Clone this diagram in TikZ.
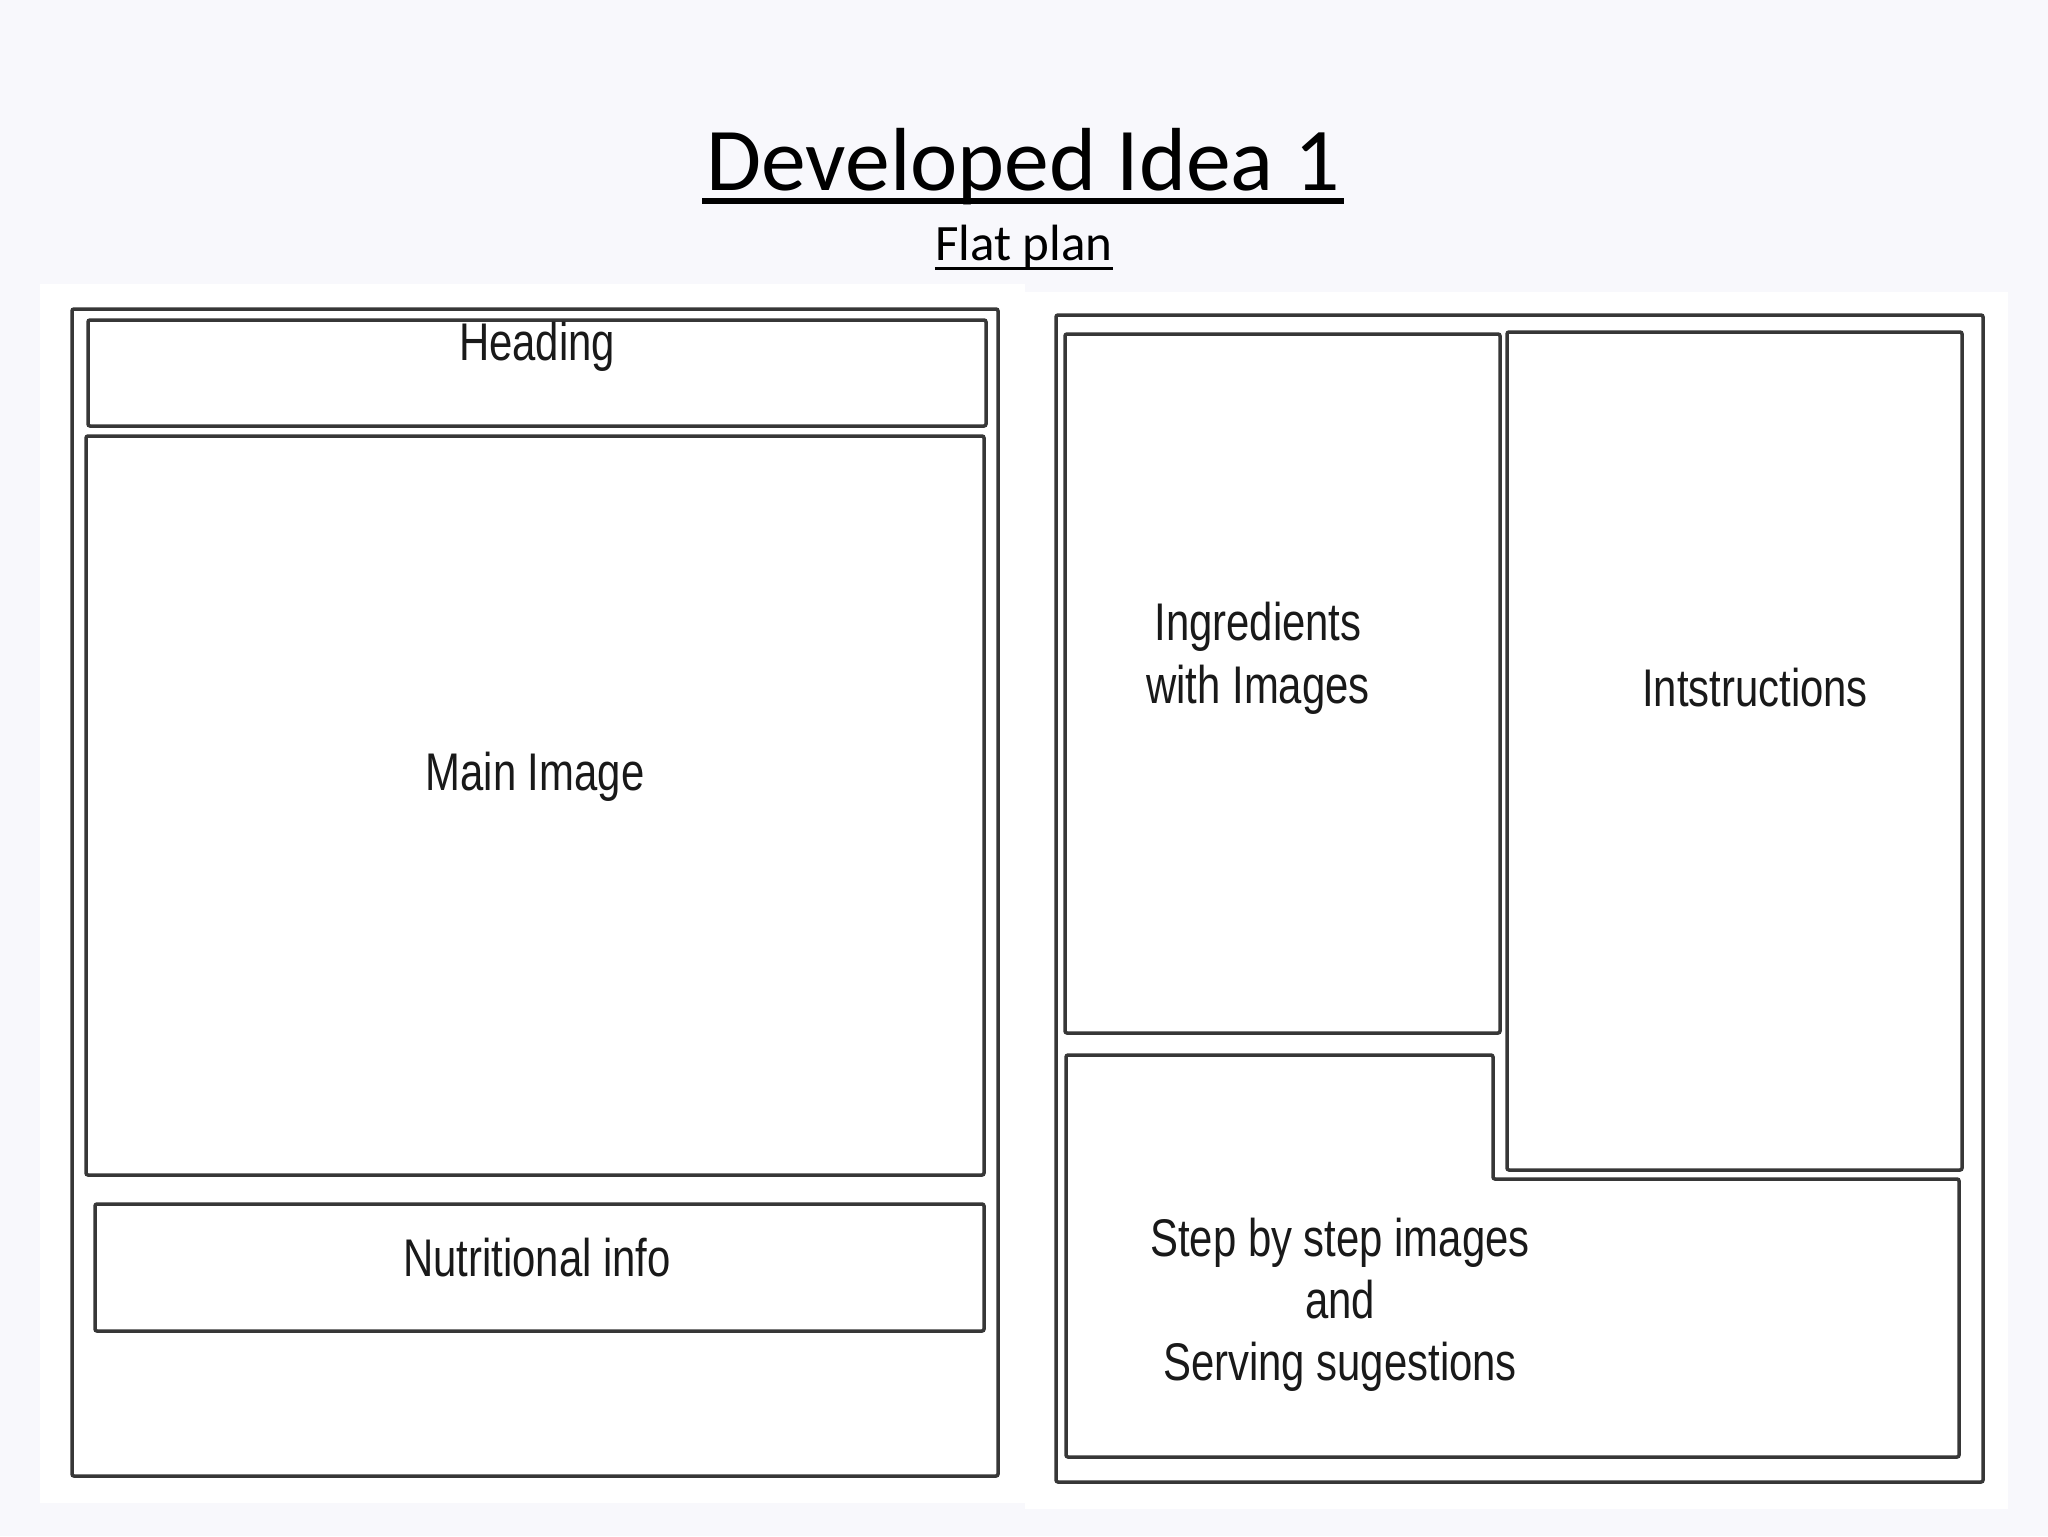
\documentclass[tikz,border=0pt]{standalone}
\usepackage{fontspec}
\setmainfont{Carlito}
\newfontfamily\labelfont[FakeStretch=0.79]{Liberation Sans}
\definecolor{pagebg}{RGB}{248,248,252}
\definecolor{boxline}{RGB}{55,55,55}
\begin{document}
\begin{tikzpicture}[x=0.5pt,y=-0.5pt,
  panel/.style={fill=white,draw=none},
  frame/.style={draw=boxline,line width=1.75pt,rounded corners=1pt},
  lbl/.style={font=\labelfont\fontsize{26.5}{30}\selectfont,text=black!90,anchor=base,inner sep=0pt},
  ttl/.style={anchor=base,inner sep=0pt,text=black}]
\useasboundingbox (0,0) rectangle (2048,1536);
\fill[pagebg] (0,0) rectangle (2048,1536);
% white panels
\fill[panel] (40,284) rectangle (1025,1503);
\fill[panel] (1025,292) rectangle (2008,1509);
% titles
\node[ttl,font=\fontsize{44.8}{54}\selectfont] (title) at (1023,190) {Developed Idea 1};
\draw[line width=3pt] ([xshift=-2pt,yshift=-5.5pt]title.base west) -- ([xshift=2pt,yshift=-5.5pt]title.base east);
\node[ttl,font=\fontsize{25.5}{30}\selectfont] (sub) at (1024,260) {Flat plan};
\draw[line width=1.5pt] ([yshift=-4pt]sub.base west) -- ([yshift=-4pt]sub.base east);
% left page
\draw[frame] (72,309) rectangle (998,1476);
\draw[frame] (88,320) rectangle (986,426);
\draw[frame] (86,436) rectangle (984,1175);
\draw[frame] (95,1204) rectangle (984,1331);
\node[lbl] (heading) at (537,360) {Heading};
\node[lbl] (mainimg) at (535,790) {Main Image};
\node[lbl] (nutri) at (537,1276) {Nutritional info};
% right page
\draw[frame] (1056,315) rectangle (1983,1482);
\draw[frame] (1065,334) rectangle (1500,1033);
\draw[frame] (1507,332) rectangle (1962,1170);
\draw[frame] (1066,1055) -- (1493,1055) -- (1493,1179) -- (1959,1179) -- (1959,1457) -- (1066,1457) -- cycle;
\node[lbl] (ingr1) at (1258,640) {Ingredients};
\node[lbl] (ingr2) at (1258,703) {with Images};
\node[lbl] (instr) at (1755,706) {Intstructions};
\node[lbl] (step1) at (1340,1256) {Step by step images};
\node[lbl] (step2) at (1340,1318) {and};
\node[lbl] (step3) at (1340,1380) {Serving sugestions};
\end{tikzpicture}
\end{document}
